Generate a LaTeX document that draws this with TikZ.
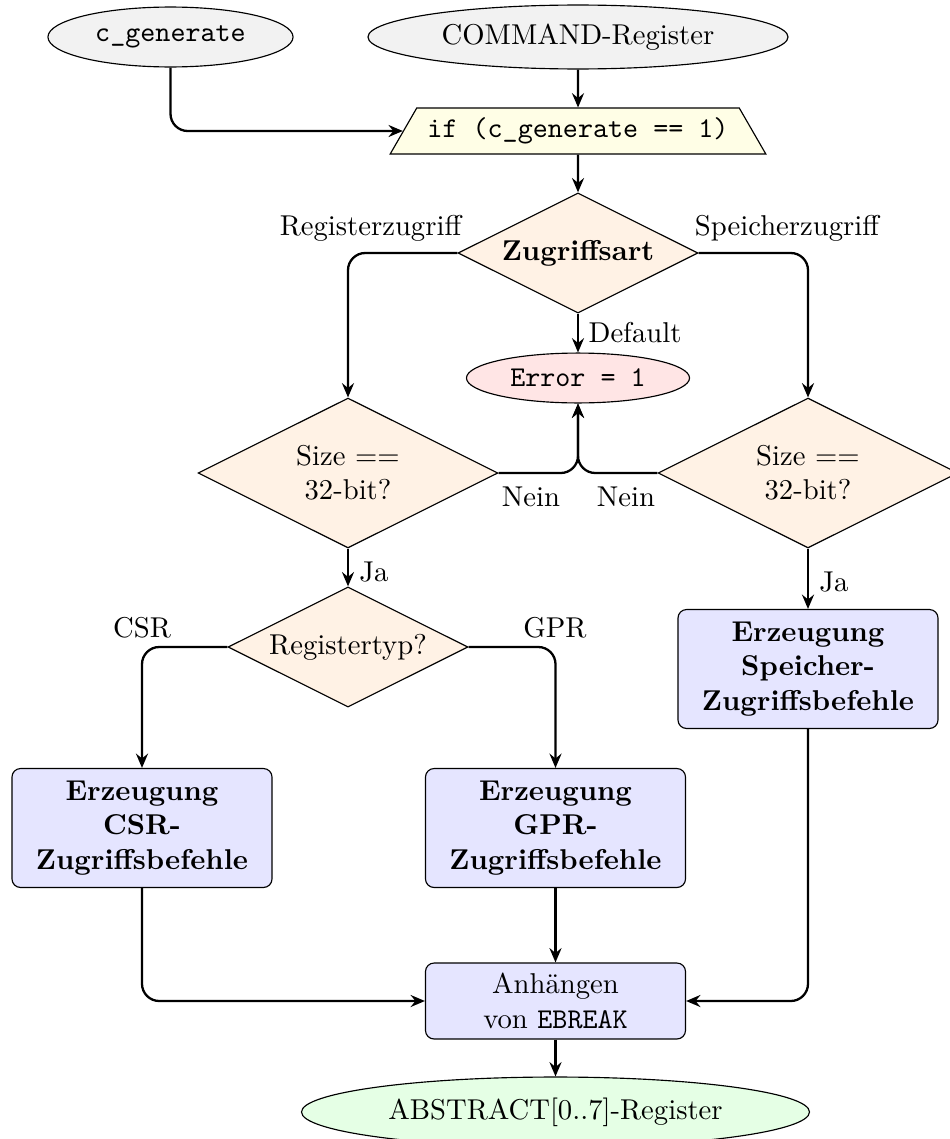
\documentclass[tikz,border=0pt]{standalone}
\usetikzlibrary{shapes.geometric,arrows.meta}
\begin{document}
\begin{tikzpicture}[x=0.3488pt,y=-0.3488pt,
  base/.style={draw=black, line width=0.4pt, inner sep=0pt, align=center},
  term/.style={base, ellipse, fill=black!5},
  cond/.style={base, trapezium, trapezium left angle=60, trapezium right angle=60,
    inner xsep=1.05pt, inner ysep=3pt, minimum height=16pt, fill=yellow!10},
  decision/.style={base, diamond, aspect=2, fill=orange!10,
    minimum width=83.7pt, minimum height=41.9pt},
  bigdecision/.style={decision, minimum width=104.6pt, minimum height=52.3pt},
  proc/.style={base, rectangle, rounded corners=3pt, fill=blue!10,
    minimum width=90.7pt, minimum height=41.5pt},
  flow/.style={draw, thick, rounded corners=6pt,
    -{Stealth[length=5pt,width=4.2pt,inset=1.7pt]}},
  lbl/.style={inner sep=0pt}
]
\useasboundingbox (0,0) rectangle (949,1139);

% inputs and the start condition
\node[term, minimum width=85.5pt, minimum height=20.9pt] (cgen) at (170.5,37) {\texttt{c\_generate}};
\node[term, minimum width=146.5pt, minimum height=22.3pt] (cmd) at (578,37) {COMMAND-Register};
\node[cond] (if) at (578,131) {\texttt{if (c\_generate == 1)}};

% access kind
\node[decision] (zug) at (578,253) {\textbf{Zugriffsart}};
\node[term, fill=red!10, minimum width=77.8pt, minimum height=17.4pt] (err) at (578,378) {\texttt{Error = 1}};

% size checks
\node[bigdecision] (sizeL) at (348,473) {Size ==\\32-bit?};
\node[bigdecision] (sizeR) at (808,473) {Size ==\\32-bit?};
\node[decision] (regtyp) at (348,647) {Registertyp?};

% command generation
\node[proc, font=\bfseries] (csr) at (142,828) {Erzeugung\\CSR-\\Zugriffsbefehle};
\node[proc, font=\bfseries] (gpr) at (555.5,828) {Erzeugung\\GPR-\\Zugriffsbefehle};
\node[proc, font=\bfseries] (spe) at (808,669) {Erzeugung\\Speicher-\\Zugriffsbefehle};
\node[proc, minimum height=26.5pt] (anh) at (555.5,1001) {Anhängen\\von \texttt{EBREAK}};
\node[term, fill=green!10, minimum width=177.2pt, minimum height=24.4pt] (abs) at (555.5,1112) {ABSTRACT[0..7]-Register};

% connectors
\draw[flow] (cgen.south) |- (if.west);
\draw[flow] (cmd.south) -- (if.north);
\draw[flow] (if.south) -- (zug.north);
\draw[flow] (zug.west) -| (sizeL.north);
\draw[flow] (zug.east) -| (sizeR.north);
\draw[flow] (zug.south) -- (err.north);
\draw[flow] (sizeL.east) -| (err.south);
\draw[flow] (sizeR.west) -| (err.south);
\draw[flow] (sizeL.south) -- (regtyp.north);
\draw[flow] (sizeR.south) -- (spe.north);
\draw[flow] (regtyp.west) -| (csr.north);
\draw[flow] (regtyp.east) -| (gpr.north);
\draw[flow] (csr.south) |- (anh.west);
\draw[flow] (gpr.south) -- (anh.north);
\draw[flow] (spe.south) |- (anh.east);
\draw[flow] (anh.south) -- (abs.north);

% branch labels
\node[lbl] (lreg) at (370.5,228) {Registerzugriff};
\node[lbl] (lspe) at (787,228) {Speicherzugriff};
\node[lbl] (ldef) at (635,333) {Default};
\node[lbl] (lneinL) at (531,497) {Nein};
\node[lbl] (lneinR) at (626,497) {Nein};
\node[lbl] (ljaL) at (374,572) {Ja};
\node[lbl] (ljaR) at (834,582) {Ja};
\node[lbl] (lcsr) at (142,628) {CSR};
\node[lbl] (lgpr) at (555,628) {GPR};
\end{tikzpicture}
\end{document}
